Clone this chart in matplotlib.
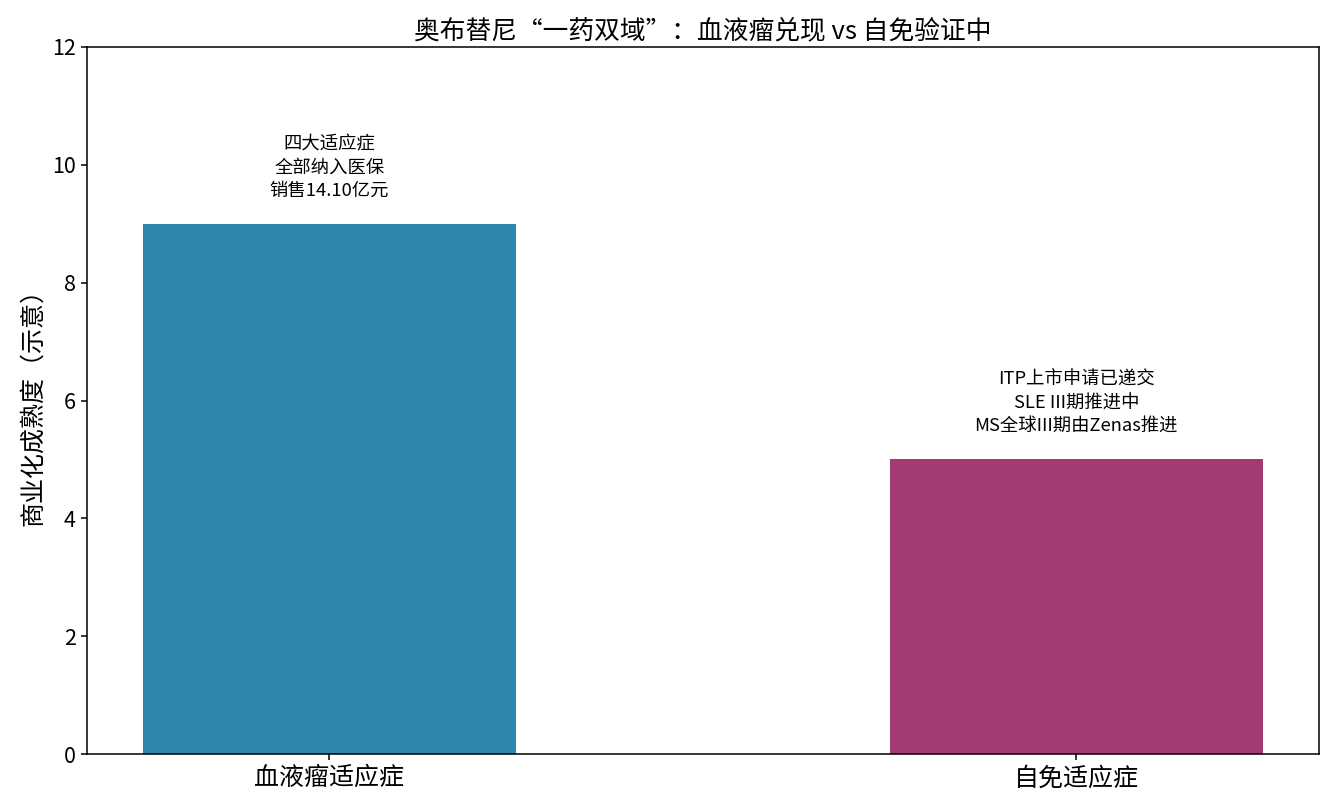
import matplotlib
matplotlib.use('Agg')
import matplotlib.pyplot as plt
import numpy as np

plt.rcParams['font.family'] = ['Noto Sans CJK SC', 'DejaVu Sans']

categories = ['血液瘤适应症', '自免适应症']
maturity = [9, 5]
notes = ['四大适应症\n全部纳入医保\n销售14.10亿元',
         'ITP上市申请已递交\nSLE III期推进中\nMS全球III期由Zenas推进']
colors = ['#2E86AB', '#A23B72']

fig, ax = plt.subplots(figsize=(13.35, 8.1), dpi=100)
x = np.arange(len(categories))
ax.bar(x, maturity, width=0.5, color=colors)

for xi, val, note in zip(x, maturity, notes):
    ax.text(xi, val + 0.4, note, ha='center', va='bottom', fontsize=13.2, linespacing=1.4)

ax.set_xticks(x)
ax.set_xticklabels(categories, fontsize=18)
ax.tick_params(axis='y', labelsize=15.5)
ax.tick_params(axis='both', length=4.5, width=1.1)
for s in ax.spines.values():
    s.set_linewidth(1.1)
ax.set_ylim(0, 12)
ax.set_ylabel('商业化成熟度（示意）', fontsize=18)
ax.set_title('奥布替尼“一药双域”：血液瘤兑现 vs 自免验证中', fontsize=18.5)

plt.subplots_adjust(left=0.065, right=0.988, top=0.942, bottom=0.069)
plt.savefig('out.png', dpi=100)
